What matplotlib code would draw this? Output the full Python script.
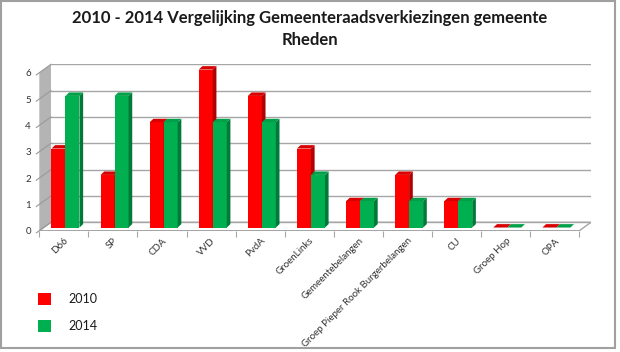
import numpy as np
import matplotlib
matplotlib.use('Agg')
import matplotlib.pyplot as plt
from matplotlib.patches import Polygon, Rectangle

# ------------------------------------------------------------------
# Data
# ------------------------------------------------------------------
parties = ['D66', 'SP', 'CDA', 'VVD', 'PvdA', 'GroenLinks', 'Gemeentebelangen',
           'Groep Pieper Rook Burgerbelangen', 'CU', 'Groep Hop', 'OPA']
seats_2010 = [3, 2, 4, 6, 5, 3, 1, 2, 1, 0, 0]
seats_2014 = [5, 5, 4, 4, 4, 2, 1, 1, 1, 0, 0]
series_names = ['2010', '2014']
y_ticks = [0, 1, 2, 3, 4, 5, 6]

title_1 = '2010 - 2014 Vergelijking Gemeenteraadsverkiezingen gemeente'
title_2 = 'Rheden'

# colours: front, side, top
RED = ('#FF0000', '#B00000', '#D80000')
GREEN = ('#00B050', '#007A38', '#00A048')
GRID = '#A6A6A6'

plt.rcParams['font.family'] = ['Lato', 'DejaVu Sans']

# fake 3D geometry (data units)
WALL_DX, WALL_DY = 0.238, 0.32   # back wall offset
BAR_DX, BAR_DY = 0.075, 0.13     # bar depth
BAR_W = 0.285
BAR_SHIFT = 0.033
BAR_BASE = 0.12


def draw_bar(ax, x0, val, cols):
    ax.bar(x0, val, width=BAR_W, bottom=BAR_BASE, align='edge',
           color=cols[0], linewidth=0, zorder=3)
    top = BAR_BASE + val
    side = [(x0 + BAR_W, BAR_BASE), (x0 + BAR_W + BAR_DX, BAR_BASE + BAR_DY),
            (x0 + BAR_W + BAR_DX, top + BAR_DY), (x0 + BAR_W, top)]
    ax.add_patch(Polygon(side, closed=True, fc=cols[1], ec='none', zorder=3))
    lid = [(x0, top), (x0 + BAR_W, top), (x0 + BAR_W + BAR_DX, top + BAR_DY),
           (x0 + BAR_DX, top + BAR_DY)]
    ax.add_patch(Polygon(lid, closed=True, fc=cols[2], ec='none', zorder=3))


fig = plt.figure(figsize=(6.2, 3.52), dpi=100)
ax = fig.add_axes([39.3 / 620, (352 - 230.7) / 352, 551.7 / 620, 166.4 / 352])

n = len(parties)
x = np.arange(n)
ax.set_xlim(-0.5, n - 0.5 + WALL_DX)
ax.set_ylim(0, y_ticks[-1] + WALL_DY)

# side wall
ymax = y_ticks[-1]
ax.add_patch(Polygon([(-0.5, 0), (-0.5 + WALL_DX, WALL_DY),
                      (-0.5 + WALL_DX, ymax + WALL_DY), (-0.5, ymax)],
                     closed=True, fc='#B4B4B4', ec='none', zorder=1))
# floor
ax.add_patch(Polygon([(-0.5, 0), (n - 0.5, 0), (n - 0.5 + WALL_DX, WALL_DY),
                      (-0.5 + WALL_DX, WALL_DY)],
                     closed=True, fc='white', ec=GRID, lw=1, zorder=1))
# gridlines on back wall and side wall
for v in y_ticks:
    ax.plot([-0.5 + WALL_DX, n - 0.5 + WALL_DX], [v + WALL_DY, v + WALL_DY],
            color=GRID, lw=1, zorder=2)
    ax.plot([-0.5 - 0.06, -0.5 + WALL_DX], [v - 0.06 * WALL_DY / WALL_DX, v + WALL_DY],
            color='#999999', lw=0.8, zorder=2, clip_on=False)

# bars
for i in range(n):
    left = x[i] + BAR_SHIFT - BAR_W
    draw_bar(ax, left, seats_2010[i], RED)
    draw_bar(ax, left + BAR_W, seats_2014[i], GREEN)

# axes styling
for s in ax.spines.values():
    s.set_visible(False)
ax.set_yticks(y_ticks)
ax.set_yticklabels([str(v) for v in y_ticks])
ax.tick_params(axis='y', length=0, pad=6, labelsize=7, labelcolor='#333333')
ax.set_xticks(x)
ax.set_xticklabels(parties, rotation=45, ha='right', va='top',
                   rotation_mode='anchor')
ax.tick_params(axis='x', which='major', length=0, pad=4, labelsize=7,
               labelcolor='#333333')
ax.set_xticks(np.arange(-0.5, n, 1.0), minor=True)
ax.tick_params(axis='x', which='minor', length=4, width=0.8, color=GRID)
ax.patch.set_visible(False)

# title
fig.text(0.5, 1 - 18 / 352, title_1, ha='center', va='center',
         fontsize=12, fontweight='bold', color='#1a1a1a')
fig.text(0.5, 1 - 40 / 352, title_2, ha='center', va='center',
         fontsize=12, fontweight='bold', color='#1a1a1a')

# legend
for k, (name, col) in enumerate(zip(series_names, [RED[0], GREEN[0]])):
    yc = 299 + 27 * k
    fig.add_artist(Rectangle((38 / 620, 1 - (yc + 6) / 352), 13 / 620, 12 / 352,
                             transform=fig.transFigure, fc=col, ec='none'))
    fig.text(68 / 620, 1 - yc / 352, name, ha='left', va='center',
             fontsize=9, color='#1a1a1a')

# outer frame
fig.add_artist(Rectangle((1 / 620, 4 / 352), 614 / 620, 347 / 352,
                         transform=fig.transFigure, fill=False,
                         ec='#A0A0A0', lw=1.5))

fig.savefig('out.png', dpi=100)
